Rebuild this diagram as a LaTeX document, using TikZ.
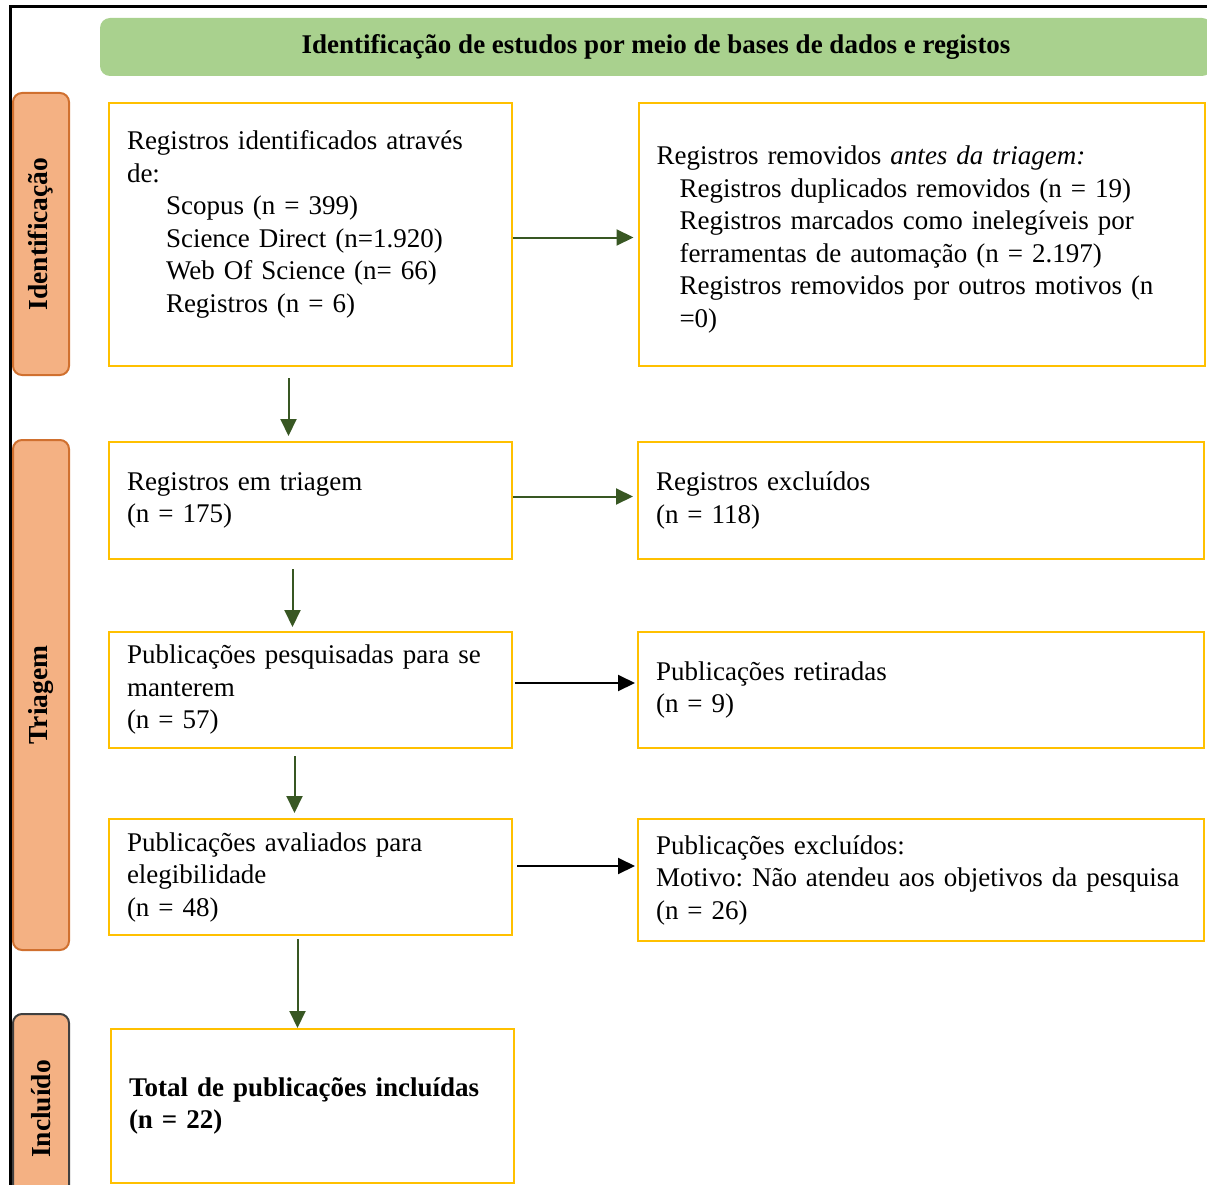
\documentclass[tikz,border=0pt]{standalone}
\usepackage{fontspec}
\setmainfont{Liberation Serif}
\usetikzlibrary{arrows.meta}
\frenchspacing

\definecolor{boxyellow}{HTML}{FFC000}
\definecolor{headgreen}{HTML}{A9D18E}
\definecolor{arrowgreen}{HTML}{385723}
\definecolor{stagefill}{HTML}{F4B183}
\definecolor{stageedge}{HTML}{D0702F}

\begin{document}
\begin{tikzpicture}[x=1pt, y=-1pt, line width=2pt,
  font=\fontsize{27}{32.5}\selectfont,
  box/.style = {draw=boxyellow, align=left, inner xsep=18pt, inner ysep=0pt},
  lbox/.style = {box, text width=367pt},
  rbox/.style = {box, text width=530pt},
  stage/.style = {draw=stageedge, fill=stagefill, rounded corners=9pt, rotate=90,
    minimum height=56pt, inner sep=0pt, font=\fontsize{27.5}{30}\selectfont\bfseries},
  garrow/.style = {draw=arrowgreen, -{Triangle[length=17pt,width=16pt]}},
  karrow/.style = {draw=black, -{Triangle[length=17pt,width=16pt]}}]

\useasboundingbox (0,0) rectangle (1207,1185);
\clip (0,0) rectangle (1207,1185);

% frame
\draw[line width=3pt] (10,1190) -- (10,7) -- (1210,7);

% header
\node[fill=headgreen, rounded corners=10pt, minimum width=1112pt, minimum height=58pt,
  font=\fontsize{27}{30}\selectfont\bfseries] (head) at (656,47)
  {Identificação de estudos por meio de bases de dados e registos};

% stages
\node[stage, minimum width=282pt] (sident) at (41,234) {Identificação};
\node[stage, minimum width=510pt] (striage) at (41,695) {Triagem};
\node[stage, draw=black!75, minimum width=190pt] (sincl) at (41,1109) {Incluído};

% boxes
\node[lbox, minimum height=263pt] (ident) at (310.5,234.5)
  {Registros identificados através\\
   de:\\
   \hspace*{39pt}Scopus (n = 399)\\
   \hspace*{39pt}Science Direct (n=1.920)\\
   \hspace*{39pt}Web Of Science (n= 66)\\
   \hspace*{39pt}Registros (n = 6)\\[-6pt]\mbox{}};
\node[rbox, minimum height=263pt] (removed) at (921.5,234.5)
  {\mbox{}\\[-4pt]
   Registros removidos \textit{antes da triagem:}\\
   \hspace*{23pt}Registros duplicados removidos (n = 19)\\
   \hspace*{23pt}Registros marcados como inelegíveis por\\
   \hspace*{23pt}ferramentas de automação (n = 2.197)\\
   \hspace*{23pt}Registros removidos por outros motivos (n\\
   \hspace*{23pt}=0)};

\node[lbox, minimum height=117pt] (screen) at (310.5,500.5)
  {Registros em triagem\\(n = 175)};
\node[rbox, minimum height=117pt] (excl) at (921,500.5)
  {Registros excluídos\\(n = 118)};

\node[lbox, minimum height=116pt] (sought) at (310.5,690)
  {Publicações pesquisadas para se\\manterem\\(n = 57)};
\node[rbox, minimum height=116pt] (retir) at (921,690)
  {Publicações retiradas\\(n = 9)};

\node[lbox, minimum height=116pt] (elig) at (310.5,877)
  {Publicações avaliados para\\elegibilidade\\(n = 48)};
\node[rbox, minimum height=122pt] (excltwo) at (921,880)
  {Publicações excluídos:\\Motivo: Não atendeu aos objetivos da pesquisa\\(n = 26)};

\node[lbox, minimum height=154pt, font=\fontsize{27}{32.5}\selectfont\bfseries] (incl) at (312.5,1106)
  {Total de publicações incluídas\\(n = 22)};

% arrows
\draw[garrow, shorten >=4pt] ([yshift=-3pt]ident.east) -- ([yshift=-3pt]ident.east -| removed.west);
\draw[garrow, shorten >=4pt] ([yshift=4pt]screen.east) -- ([yshift=4pt]screen.east -| excl.west);
\draw[karrow, shorten <=2pt, shorten >=2pt] ([yshift=7pt]sought.east) -- ([yshift=7pt]sought.east -| retir.west);
\draw[karrow, shorten <=4pt, shorten >=2pt] ([yshift=11pt]elig.east) -- ([yshift=11pt]elig.east -| excltwo.west);

\draw[garrow, shorten <=11pt, shorten >=5pt] ([xshift=-22pt]ident.south) -- ([xshift=-22pt]ident.south |- screen.north);
\draw[garrow, shorten <=9pt, shorten >=4pt] ([xshift=-18pt]screen.south) -- ([xshift=-18pt]screen.south |- sought.north);
\draw[garrow, shorten <=7pt, shorten >=5pt] ([xshift=-16pt]sought.south) -- ([xshift=-16pt]sought.south |- elig.north);
\draw[garrow, shorten <=3pt] ([xshift=-13pt]elig.south) -- ([xshift=-13pt]elig.south |- incl.north);
\end{tikzpicture}
\end{document}
